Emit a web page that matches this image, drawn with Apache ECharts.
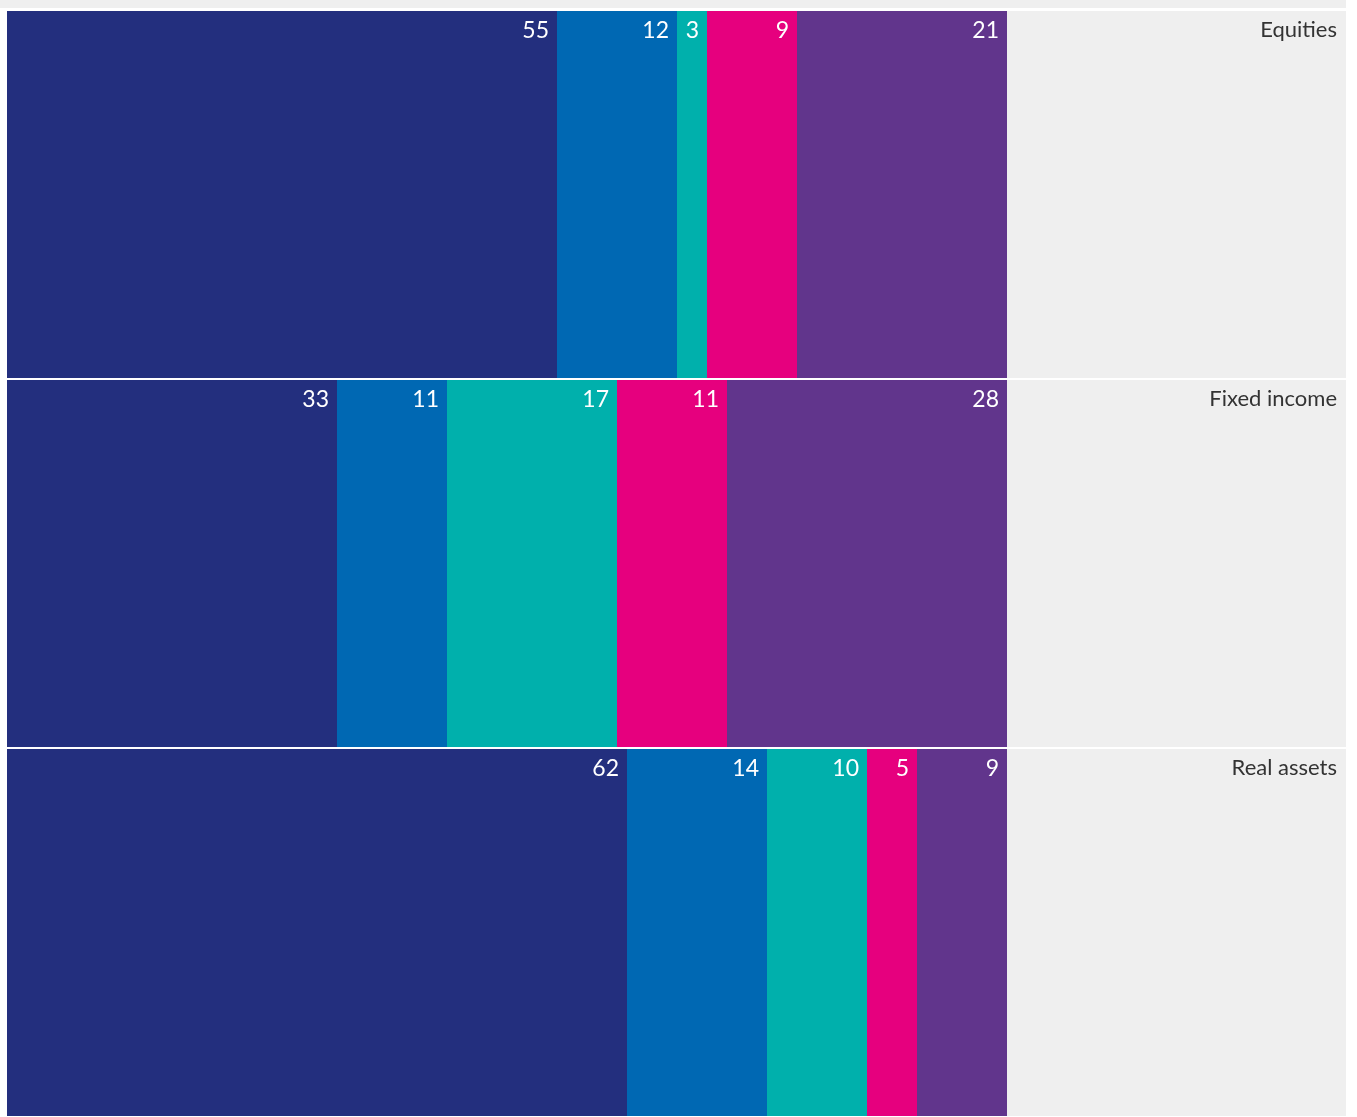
<!DOCTYPE html>
<html>
<head>
<meta charset="utf-8">
<script src="https://cdn.jsdelivr.net/npm/echarts@6/dist/echarts.min.js"></script>
<style>
html,body{margin:0;padding:0;background:#fff;}
#chart{width:1357px;height:1117px;}
</style>
</head>
<body>
<div id="chart"></div>
<script>
var categories = ['Equities', 'Fixed income', 'Real assets'];
var seriesNames = ['Group 1', 'Group 2', 'Group 3', 'Group 4', 'Group 5'];
var group1 = [55, 33, 62];
var group2 = [12, 11, 14];
var group3 = [3, 17, 10];
var group4 = [9, 11, 5];
var group5 = [21, 28, 9];
var colors = ['#232f7e', '#0068b3', '#00b0ac', '#e6007e', '#61358c'];

var allData = [group1, group2, group3, group4, group5];
var series = [];
for (var i = 0; i < allData.length; i++) {
	series.push({
		name: seriesNames[i],
		type: 'bar',
		stack: 'total',
		xAxisIndex: 1,
		yAxisIndex: 1,
		barCategoryGap: '0.5%',
		itemStyle: {color: colors[i]},
		label: {
			show: true,
			position: 'insideTopRight',
			distance: 8,
			color: '#fff',
			fontSize: 23,
			fontFamily: 'Lato, "Noto Sans", sans-serif',
			formatter: '{c}'
		},
		data: allData[i]
	});
}

var option = {
	animation: false,
	grid: [
		{left: 0, right: 11, top: 0, height: 8, show: true, backgroundColor: '#efefef', borderWidth: 0},
		{left: 7, right: 11, top: 10, bottom: 0, show: true, backgroundColor: '#efefef', borderWidth: 0}
	],
	xAxis: [
		{gridIndex: 0, type: 'value', show: false},
		{gridIndex: 1, type: 'value', min: 0, max: 133.9, show: false}
	],
	yAxis: [
		{gridIndex: 0, type: 'category', data: [''], show: false},
		{
			gridIndex: 1,
			type: 'category',
			data: categories,
			inverse: true,
			position: 'right',
			axisLine: {show: false},
			axisTick: {show: false},
			splitLine: {show: true, lineStyle: {color: '#fff', width: 2}},
			axisLabel: {
				inside: true,
				margin: 9,
				formatter: '{t|{value}}',
				rich: {
					t: {
						color: '#333',
						fontSize: 22,
						fontFamily: 'Lato, "Noto Sans", sans-serif',
						padding: [0, 0, 329, 0]
					}
				}
			}
		}
	],
	series: series
};

var mychart = echarts.init(document.getElementById('chart'));
mychart.setOption(option);
</script>
</body>
</html>
